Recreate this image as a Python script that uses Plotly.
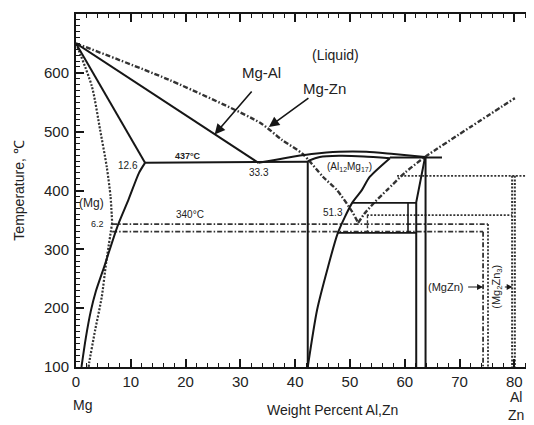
import plotly.graph_objects as go

# ---------------- data (wt% , temperature degC) ----------------
# Mg-Al system (solid lines)
al_liq_x = [0, 33.3]
al_liq_t = [650, 447]
al_sol_x = [0, 12.6]
al_sol_t = [650, 447]
al_solvus_x = [12.6, 11.5, 9.6, 7.6, 5.2, 3.6, 2.7, 1.8, 1.0]
al_solvus_t = [447, 430, 385, 340, 272, 228, 195, 150, 100]
al_eut1_x = [12.6, 42.3]
al_eut1_t = [447, 449]
gam_liq_x = [33.3, 38, 43, 48, 53, 58, 63.7]
gam_liq_t = [447, 455, 462, 466, 466, 462, 457]
gam_sol_x = [42.3, 44.5, 48, 52.5, 57.3]
gam_sol_t = [450, 457, 459, 458, 455]
gam_left_x = [42.3, 42.3]
gam_left_t = [450, 100]
gam_right_x = [57.3, 53.6, 52.2, 50.4, 47.8, 46.0, 44.0, 42.3]
gam_right_t = [455, 423, 401, 379, 328, 270, 197, 100]
al_eut2_x = [57.3, 66.8]
al_eut2_t = [456, 456]
beta_l_x = [63.7, 62.1, 62.1]
beta_l_t = [456, 380, 100]
beta_r_x = [63.8, 63.8]
beta_r_t = [456, 100]
box_top_x = [50.4, 62.1]
box_top_t = [379, 379]
box_bot_x = [47.8, 62.1]
box_bot_t = [328, 328]
box_mid_x = [60.6, 60.6]
box_mid_t = [379, 328]

# Mg-Zn system (dash-dot / dotted lines)
zn_liq_l_x = [0, 17, 33.6, 37.6, 41.4, 45.1, 47.6, 50.4, 51.5]
zn_liq_l_t = [650, 588, 515, 486, 462, 423, 401, 364, 345]
zn_liq_r_x = [51.5, 52.6, 54.5, 56.8, 60, 63.7, 72, 80.1]
zn_liq_r_t = [345, 360, 380, 401, 430, 457, 508, 557]
zn_sol_x = [0, 2.9, 4.4, 5.6, 6.3, 6.6]
zn_sol_t = [650, 577, 503, 441, 390, 345]
zn_solvus_x = [6.6, 5.5, 4.7, 3.5, 2.4, 2.3]
zn_solvus_t = [345, 277, 219, 163, 107, 100]
zn_h1_x = [6.6, 75.2]
zn_h1_t = [343, 343]
zn_v1_x = [75.2, 75.2]
zn_v1_t = [343, 100]
zn_h2_x = [6.6, 74.3]
zn_h2_t = [330, 330]
zn_v2_x = [74.3, 74.3]
zn_v2_t = [330, 100]
zn_h3_x = [53.1, 79.6]
zn_h3_t = [358, 358]
zn_h4_x = [58.6, 82.3]
zn_h4_t = [425, 425]
zn_v3_x = [79.6, 79.6]
zn_v3_t = [425, 100]
zn_v4_x = [80.1, 80.1]
zn_v4_t = [425, 100]
zn_short_x = [53.2, 53.2]
zn_short_t = [358, 328]

x_ticks = [0, 10, 20, 30, 40, 50, 60, 70, 80]
y_ticks = [100, 200, 300, 400, 500, 600, 700]

BLACK = "#161616"
GREY = "#333333"
DASHDOT = "5px,2px,1.5px,2px"
DOT = "2px,1.6px"

fig = go.Figure()

def add(x, y, color=BLACK, dash="solid", width=2, spline=False):
    fig.add_trace(go.Scatter(
        x=x, y=y, mode="lines", hoverinfo="skip", showlegend=False,
        line=dict(color=color, width=width, dash=dash,
                  shape="spline" if spline else "linear", smoothing=0.7)))

# Mg-Zn first (under the solid lines)
add(zn_liq_l_x, zn_liq_l_t, GREY, DASHDOT, 2.4, True)
add(zn_liq_r_x, zn_liq_r_t, GREY, DASHDOT, 2.4, True)
add(zn_sol_x, zn_sol_t, GREY, DOT, 2.2, True)
add(zn_solvus_x, zn_solvus_t, GREY, DOT, 2.2, True)
add(zn_h1_x, zn_h1_t, GREY, DASHDOT, 1.8)
add(zn_v1_x, zn_v1_t, GREY, DOT, 1.8)
add(zn_h2_x, zn_h2_t, GREY, DASHDOT, 1.8)
add(zn_v2_x, zn_v2_t, GREY, DASHDOT, 1.8)
add(zn_h3_x, zn_h3_t, GREY, DOT, 1.8)
add(zn_h4_x, zn_h4_t, GREY, DOT, 1.8)
add(zn_v3_x, zn_v3_t, GREY, DOT, 2)
add(zn_v4_x, zn_v4_t, GREY, DOT, 2)
add(zn_short_x, zn_short_t, GREY, "3px,2px", 1.4)

# Mg-Al
add(al_liq_x, al_liq_t)
add(al_sol_x, al_sol_t)
add(al_solvus_x, al_solvus_t, spline=True)
add(al_eut1_x, al_eut1_t)
add(gam_liq_x, gam_liq_t, spline=True)
add(gam_sol_x, gam_sol_t, spline=True)
add(gam_left_x, gam_left_t)
add(gam_right_x, gam_right_t, spline=True)
add(al_eut2_x, al_eut2_t)
add(beta_l_x, beta_l_t)
add(beta_r_x, beta_r_t)
add(box_top_x, box_top_t, width=1.6)
add(box_bot_x, box_bot_t, width=1.6)
add(box_mid_x, box_mid_t, width=1.6)

FONT = "Liberation Sans, Arial, sans-serif"
TXT = "#222222"

def label(x, y, text, size=10, angle=0, xref="x", yref="y"):
    fig.add_annotation(x=x, y=y, xref=xref, yref=yref, text=text, showarrow=False,
                       xanchor="center", yanchor="middle",
                       textangle=angle, font=dict(family=FONT, size=size, color=TXT))

def arrow(x, y, ax, ay, width=1.5, size=1.0):
    fig.add_annotation(x=x, y=y, ax=ax, ay=ay, xref="x", yref="y", axref="x", ayref="y",
                       text="", showarrow=True, arrowhead=2, arrowsize=size,
                       arrowwidth=width, arrowcolor=BLACK)

label(47.3, 630, "(Liquid)", 14)
label(33.9, 600, "Mg-Al", 15)
label(45.4, 574, "Mg-Zn", 15)
arrow(25.3, 495, 32.3, 571, 1.6, 1.3)
arrow(35.2, 508, 42.7, 559, 1.6, 1.3)
label(20.4, 458, "<b>437°C</b>", 9)
label(9.4, 443, "12.6", 10)
label(33.4, 430, "33.3", 10)
label(50.0, 440, "(Al<sub>12</sub>Mg<sub>17</sub>)", 10)
label(46.9, 362, "51.3", 10)
label(20.8, 360, "340°C", 10)
label(2.9, 378, "(Mg)", 12)
label(3.9, 343, "6.2", 9)
label(67.5, 236, "(MgZn)", 11)
arrow(74.3, 236, 71.3, 236, 1.2, 1.0)
label(76.8, 236, "(Mg<sub>2</sub>Zn<sub>3</sub>)", 11, -90)
arrow(79.7, 236, 78.0, 236, 1.2, 1.0)

label(46.9, -0.122, "Weight Percent Al,Zn", 14, yref="paper")
label(1.1, -0.108, "Mg", 14, yref="paper")
label(80.3, -0.11, "Al<br>Zn", 14, yref="paper")
label(-0.128, 0.5, "Temperature, ℃", 14, angle=-90, xref="paper", yref="paper")

# the page body adds an 8px margin, so the figure is 8px smaller and shifted
fig.update_layout(
    width=526, height=417,
    margin=dict(l=68, r=6, t=6, b=58, autoexpand=False),
    paper_bgcolor="white", plot_bgcolor="white",
    showlegend=False,
    font=dict(family=FONT, size=15, color=TXT),
)
fig.update_xaxes(
    range=[0, 82.5], tickvals=x_ticks, ticktext=[str(v) for v in x_ticks],
    automargin=False,
    showgrid=False, zeroline=False, showline=True, linecolor=BLACK, linewidth=2,
    mirror="ticks", ticks="inside", ticklen=8, tickwidth=1.5, tickcolor=BLACK,
    minor=dict(dtick=2, ticks="inside", ticklen=4, tickwidth=1.2, tickcolor=BLACK),
    tickfont=dict(family=FONT, size=15, color=TXT), ticklabelstandoff=0,
)
fig.update_yaxes(
    range=[100, 700], tickvals=y_ticks, ticktext=[str(v) for v in y_ticks],
    automargin=False,
    showgrid=False, zeroline=False, showline=True, linecolor=BLACK, linewidth=2,
    mirror=False, ticks="inside", ticklen=8, tickwidth=1.5, tickcolor=BLACK,
    minor=dict(dtick=10, ticks="inside", ticklen=4, tickwidth=1.2, tickcolor=BLACK),
    tickfont=dict(family=FONT, size=15, color=TXT), ticklabelstandoff=2,
)

fig.write_html("out.html")
